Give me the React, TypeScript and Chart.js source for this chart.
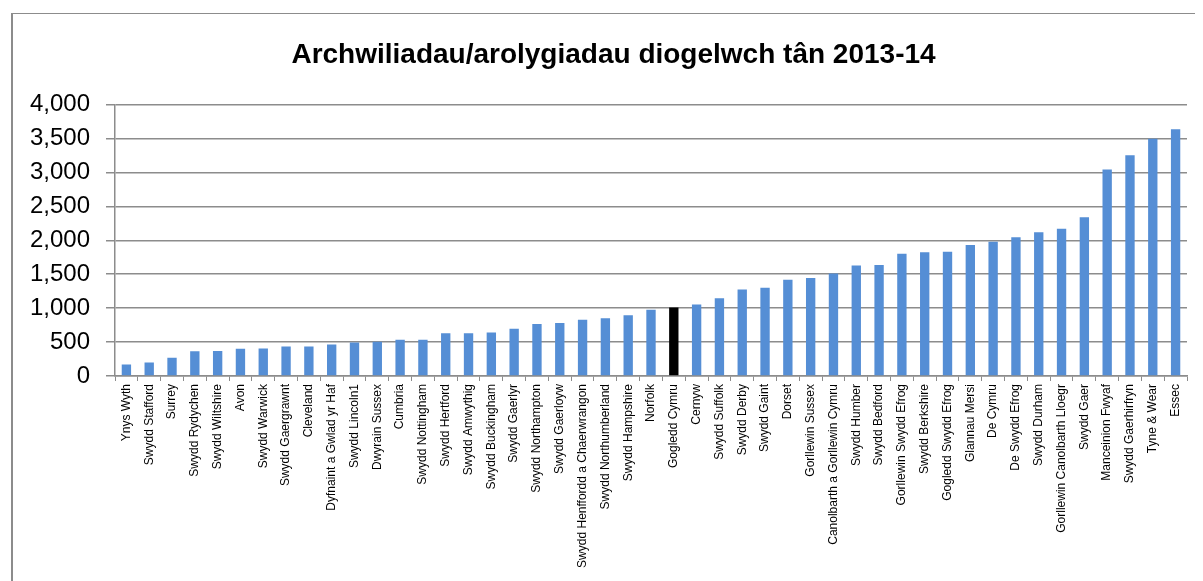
import React, { useEffect, useRef } from "react";
import { Chart, registerables } from "chart.js";

Chart.register(...registerables);

const TITLE = "Archwiliadau/arolygiadau diogelwch tân 2013-14";

const categories: string[] = [
  "Ynys Wyth",
  "Swydd Stafford",
  "Surrey",
  "Swydd Rydychen",
  "Swydd Wiltshire",
  "Avon",
  "Swydd Warwick",
  "Swydd Gaergrawnt",
  "Cleveland",
  "Dyfnaint a Gwlad yr Haf",
  "Swydd Lincoln1",
  "Dwyrain Sussex",
  "Cumbria",
  "Swydd Nottingham",
  "Swydd Hertford",
  "Swydd Amwythig",
  "Swydd Buckingham",
  "Swydd Gaerlyr",
  "Swydd Northampton",
  "Swydd Gaerloyw",
  "Swydd Henffordd a Chaerwrangon",
  "Swydd Northumberland",
  "Swydd Hampshire",
  "Norfolk",
  "Gogledd Cymru",
  "Cernyw",
  "Swydd Suffolk",
  "Swydd Derby",
  "Swydd Gaint",
  "Dorset",
  "Gorllewin Sussex",
  "Canolbarth a Gorllewin Cymru",
  "Swydd Humber",
  "Swydd Bedford",
  "Gorllewin Swydd Efrog",
  "Swydd Berkshire",
  "Gogledd Swydd Efrog",
  "Glannau Mersi",
  "De Cymru",
  "De Swydd Efrog",
  "Swydd Durham",
  "Gorllewin Canolbarth Lloegr",
  "Swydd Gaer",
  "Manceinion Fwyaf",
  "Swydd Gaerhirfryn",
  "Tyne & Wear",
  "Essec",
];

const inspections: number[] = [
  170, 200, 270, 365, 370, 400, 405, 435, 435, 465, 495, 505, 535, 535, 630,
  630, 640, 695, 765, 780, 830, 850, 895, 975, 1010, 1055, 1145, 1275, 1300,
  1420, 1445, 1510, 1630, 1635, 1800, 1825, 1830, 1930, 1980, 2045, 2120,
  2170, 2340, 3045, 3255, 3495, 3635,
];

const highlighted = "Gogledd Cymru";
const yTicks: number[] = [0, 500, 1000, 1500, 2000, 2500, 3000, 3500, 4000];

const BLUE = "#558ed5";
const GRID = "#8c8c8c";

export default function App() {
  const ref = useRef<HTMLCanvasElement | null>(null);

  useEffect(() => {
    if (!ref.current) return;
    const H = 580;
    const chart = new Chart(ref.current, {
      type: "bar",
      data: {
        labels: categories,
        datasets: [
          {
            data: inspections,
            backgroundColor: categories.map((c) =>
              c === highlighted ? "#000000" : BLUE
            ),
            categoryPercentage: 1,
            barPercentage: 0.41,
          },
        ],
      },
      options: {
        responsive: false,
        animation: false,
        events: [],
        layout: { padding: 0 },
        plugins: {
          legend: { display: false },
          tooltip: { enabled: false },
          title: {
            display: true,
            text: TITLE,
            color: "#000000",
            font: { family: "'Liberation Sans', Arial, sans-serif", size: 28, weight: "bold" },
            padding: { top: 24, bottom: 33 },
          },
        },
        scales: {
          x: {
            grid: {
              display: true,
              drawOnChartArea: false,
              drawTicks: true,
              tickLength: 5,
              color: GRID,
              lineWidth: 1,
            },
            border: { display: true, color: GRID, width: 1.5 },
            ticks: {
              autoSkip: false,
              maxRotation: 90,
              minRotation: 90,
              padding: 3,
              color: "#000000",
              font: { family: "'Liberation Sans', Arial, sans-serif", size: 12 },
            },
            afterFit: (scale: any) => {
              scale.height = H - 362;
            },
          },
          y: {
            min: 0,
            max: 4000,
            afterBuildTicks: (scale: any) => {
              scale.ticks = yTicks.map((v) => ({ value: v }));
            },
            grid: {
              color: GRID,
              lineWidth: 1.5,
              drawTicks: true,
              tickLength: 9,
            },
            border: { display: true, color: GRID, width: 1.5 },
            ticks: {
              padding: 16,
              color: "#000000",
              font: { family: "'Liberation Sans', Arial, sans-serif", size: 24 },
              callback: (v: any) => Number(v).toLocaleString("en-US"),
            },
            afterFit: (scale: any) => {
              scale.width = 102;
            },
          },
          spacer: {
            type: "linear",
            position: "right",
            display: true,
            grid: { display: false, drawTicks: false },
            border: { display: false },
            ticks: { display: false },
            afterFit: (scale: any) => {
              scale.width = 27;
            },
          },
        },
      },
    });
    return () => chart.destroy();
  }, []);

  return (
    <div
      style={{
        position: "relative",
        width: 1195,
        height: 573,
        overflow: "hidden",
        background: "#ffffff",
      }}
    >
      <div
        style={{
          position: "absolute",
          left: 3,
          top: 5,
          width: 1201,
          height: 600,
          border: "1px solid #8c8c8c",
          borderLeftWidth: 2,
          background: "#ffffff",
        }}
      >
        <canvas
          ref={ref}
          width={1201}
          height={580}
          style={{ display: "block", width: 1201, height: 580 }}
        />
      </div>
    </div>
  );
}
